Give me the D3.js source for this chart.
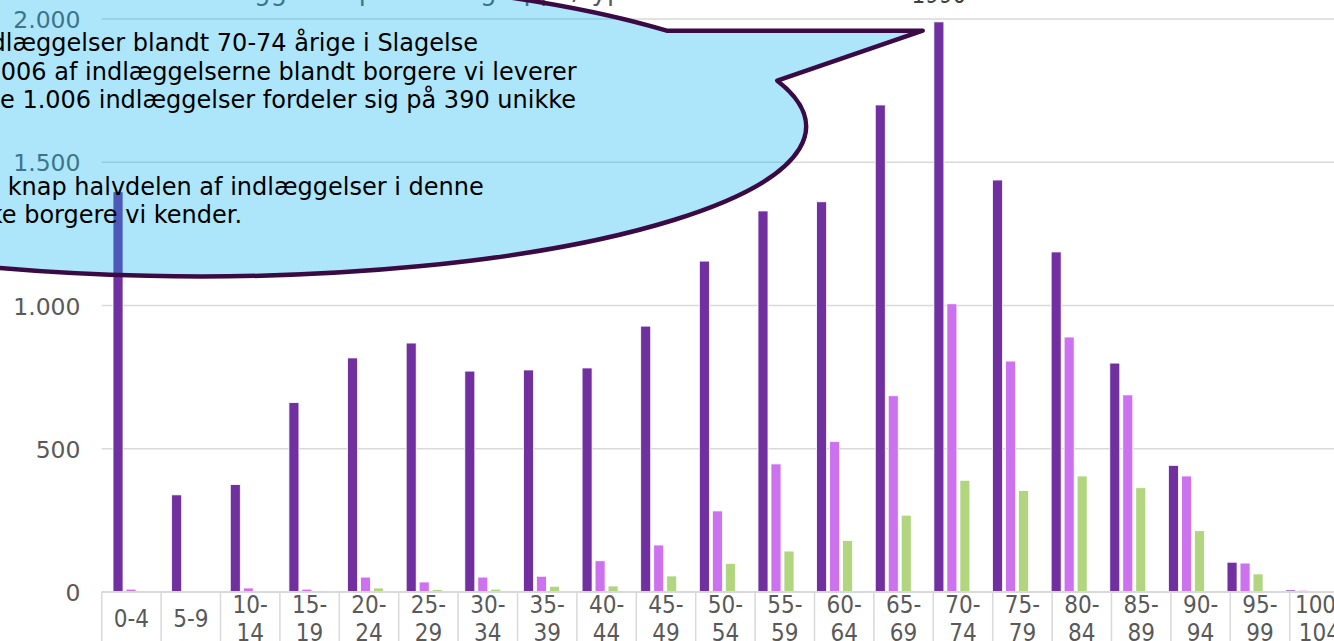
<!DOCTYPE html>
<html><head><meta charset="utf-8">
<script src="https://cdn.jsdelivr.net/npm/d3@7"></script>
<style>html,body{margin:0;padding:0;background:#fff;overflow:hidden}</style>
</head><body><svg id="c" width="1334" height="641"></svg>
<script>
const categories = ["0-4","5-9","10-14","15-19","20-24","25-29","30-34","35-39","40-44","45-49","50-54","55-59","60-64","65-69","70-74","75-79","80-84","85-89","90-94","95-99","100-104"];
const seriesNames = ["Indlæggelser i alt","Borgere vi leverer til","Unikke borgere"];
const seriesAll = [1397,339,375,661,817,869,771,775,782,928,1155,1330,1362,1700,1990,1438,1187,799,442,104,7];
const seriesLeverer = [10,0,14,10,52,35,52,55,109,164,283,447,525,685,1006,806,890,688,405,101,6];
const seriesUnikke = [0,0,0,4,14,9,10,20,21,56,100,143,180,268,390,354,405,364,214,63,2];
const yTicks = [0,500,1000,1500,2000];
const titleText = "Indlæggelser pr. aldersgruppe/type";
const calloutLines = [
  {hidden:"Der er 1.990 in", shown:"dlæggelser blandt 70-74 årige i Slagelse"},
  {hidden:"Heraf er 1.", shown:"006 af indlæggelserne blandt borgere vi leverer"},
  {hidden:"Diss", shown:"e 1.006 indlæggelser fordeler sig på 390 unikke"},
  {hidden:"borgere.", shown:""},
  {hidden:"", shown:""},
  {hidden:"Dvs. at", shown:" knap halvdelen af indlæggelser i denne"},
  {hidden:"aldersgruppe er ik", shown:"ke borgere vi kender."}
];

const colors = ["#7030a0","#cc72ee","#b2d580"];
const FONT_C = "'DejaVu Sans Condensed','DejaVu Sans',sans-serif";
const FONT = "'DejaVu Sans',Verdana,sans-serif";
const svg = d3.select("#c");
const W = 1334, H = 641;
const locale = d3.formatLocale({decimal:",", thousands:".", grouping:[3], currency:["","kr"]});
const fmt = locale.format(",");

const y = d3.scaleLinear().domain([0,2000]).range([592,19]);
const x0 = d3.scaleBand().domain(categories).range([101.7,1333]);
const xl = d3.scaleBand().domain(categories).range([101.7,101.7+21*59.4]);
const groupW = 36;
const x1 = d3.scaleBand().domain([0,1,2]).range([0,groupW]).paddingInner(0.23);
const series = [seriesAll, seriesLeverer, seriesUnikke];

// gridlines
svg.append("g").selectAll("line").data(yTicks.filter(d=>d>0)).join("line")
  .attr("x1",101.7).attr("x2",W).attr("y1",d=>y(d)).attr("y2",d=>y(d))
  .attr("stroke","#d9d9d9").attr("stroke-width",1.5);

// title (mostly hidden above the picture)
svg.append("text").attr("x",410).attr("y",0).attr("text-anchor","middle")
  .attr("font-family",FONT).attr("font-size",26).attr("fill","#595959").text(titleText);

// bars
const gb = svg.append("g");
series.forEach((vals,si)=>{
  gb.append("g").selectAll("rect").data(vals).join("rect")
    .attr("x",(d,i)=>x0(categories[i]) + (x0.bandwidth()-groupW)/2 + x1(si))
    .attr("width",x1.bandwidth())
    .attr("y",d=>y(d)).attr("height",d=>y(0)-y(d))
    .attr("fill",colors[si]).attr("stroke","#fff").attr("stroke-width",0.8);
});

// data label for 70-74 dark bar
svg.append("text")
  .attr("x",x0("70-74") + (x0.bandwidth()-groupW)/2 + x1(0) + x1.bandwidth()/2)
  .attr("y",y(seriesAll[14]) - 19).attr("text-anchor","middle")
  .attr("font-family",FONT_C).attr("font-size",24).attr("fill","#404040").text(String(seriesAll[14]));

// x axis
svg.append("line").attr("x1",101.7).attr("x2",W).attr("y1",y(0)).attr("y2",y(0))
  .attr("stroke","#d9d9d9").attr("stroke-width",2);
const sepX = categories.map(c=>xl(c)).concat([xl.range()[1]]);
svg.append("g").selectAll("line").data(sepX).join("line")
  .attr("x1",d=>d).attr("x2",d=>d).attr("y1",y(0)).attr("y2",H)
  .attr("stroke","#d9d9d9").attr("stroke-width",1.5);
const gx = svg.append("g").attr("font-family",FONT_C).attr("font-size",24).attr("fill","#595959").attr("text-anchor","middle");
categories.forEach(c=>{
  const cx = xl(c)+xl.bandwidth()/2;
  const parts = c.split("-");
  if (parts[0].length===1 && parts[1].length===1) {
    gx.append("text").attr("x",cx).attr("y",627).text(c);
  } else {
    gx.append("text").attr("x",cx).attr("y",613).text(parts[0]+"-");
    gx.append("text").attr("x",cx).attr("y",641).text(parts[1]);
  }
});

// y labels
svg.append("g").selectAll("text").data(yTicks).join("text")
  .attr("x",80.5).attr("y",d=>y(d)+9).attr("text-anchor","end")
  .attr("font-family",FONT).attr("font-size",23.5).attr("fill","#595959").text(d=>fmt(d));

// callout
const rx=606, ry=150;
const A=[666.7,30.7], T=[922.7,30.7], B=[777.3,80.7];
const p = d3.path();
p.moveTo(A[0],A[1]); p.lineTo(T[0],T[1]); p.lineTo(B[0],B[1]);
const pathStr = p.toString() + ` A${rx},${ry} 0 1 1 ${A[0]},${A[1]} Z`;
svg.append("path").attr("d",pathStr).attr("fill","#00b0f0").attr("fill-opacity",0.32)
  .attr("stroke","#3b0a45").attr("stroke-width",4.5).attr("stroke-linejoin","round");

const startX = [-9.4,0.8,0,0,0,0,-11.3];
const gt = svg.append("g").attr("font-family",FONT).attr("font-size",24).attr("fill","#000");
calloutLines.forEach((l,i)=>{
  const by = 51 + i*28.7;
  if (l.shown) gt.append("text").attr("x",startX[i]).attr("y",by).style("white-space","pre").text(l.shown);
  if (l.hidden) gt.append("text").attr("x",startX[i]).attr("y",by).attr("text-anchor","end").text(l.hidden);
});
</script></body></html>
